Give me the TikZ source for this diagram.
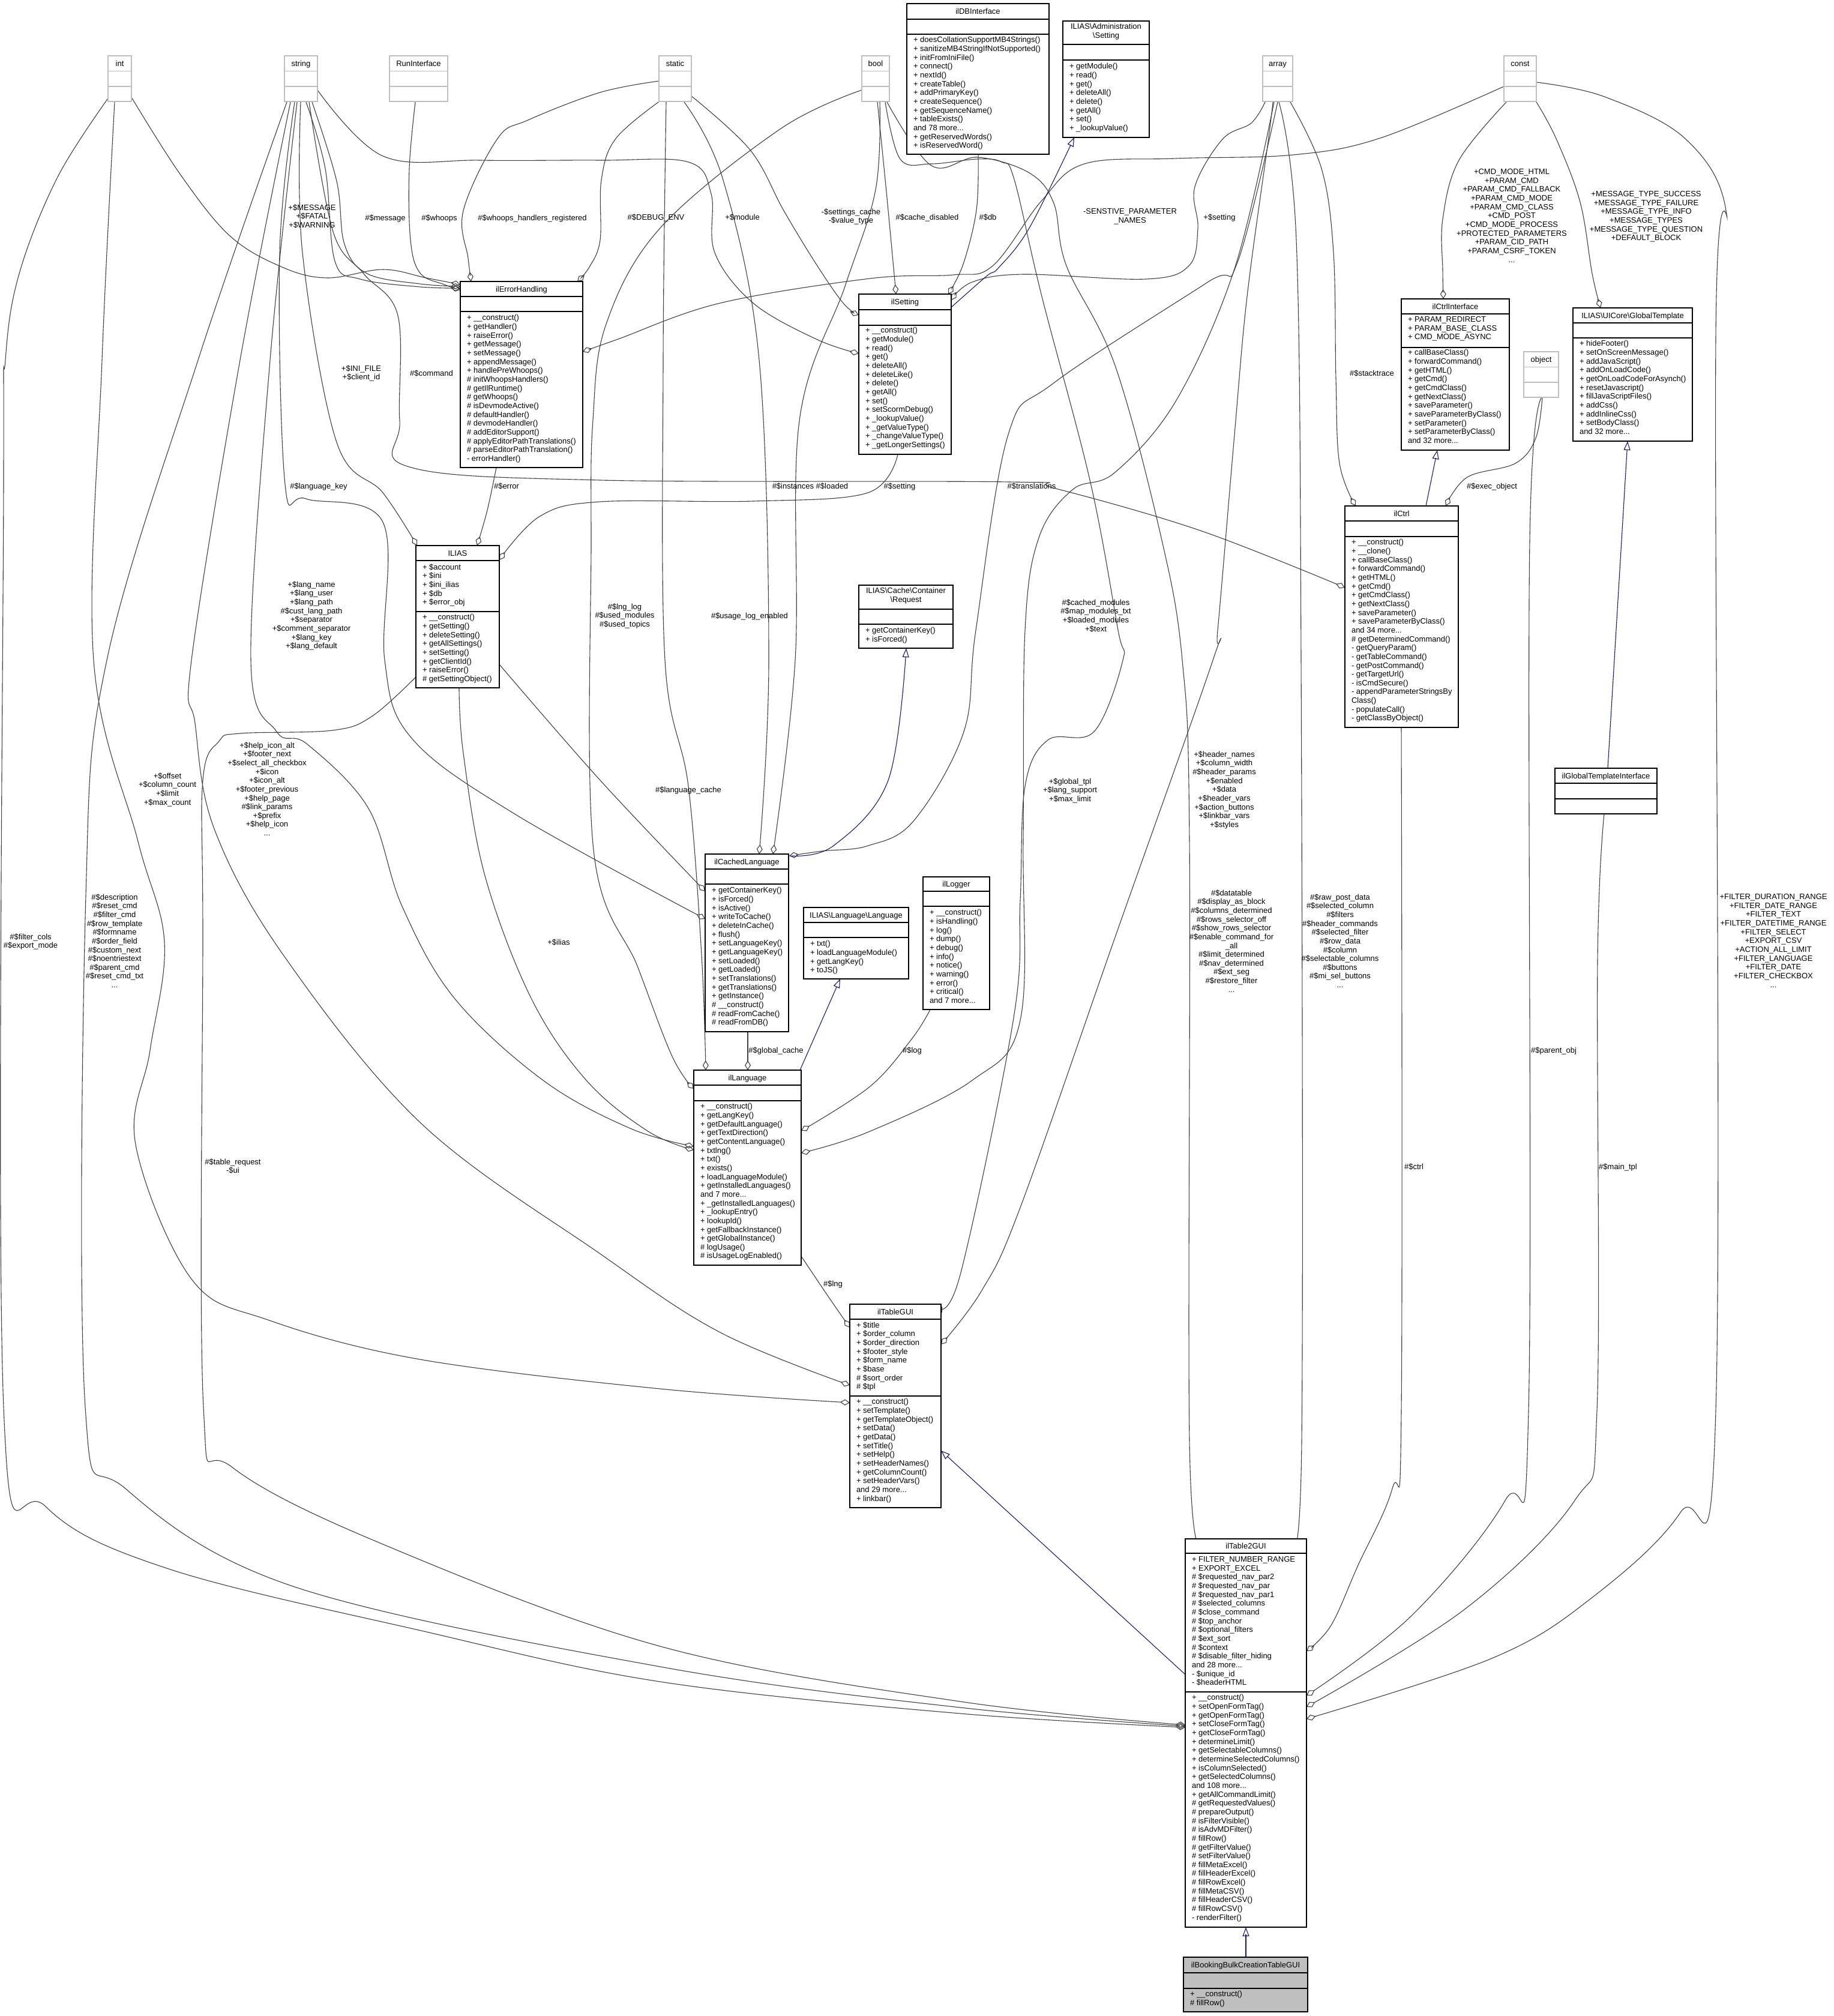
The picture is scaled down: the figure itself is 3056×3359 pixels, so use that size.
\documentclass[tikz,border=0pt]{standalone}
\usepackage{fontspec}
\setmainfont{Liberation Sans}
\usetikzlibrary{arrows.meta,calc}
\definecolor{aggc}{HTML}{404040}
\definecolor{inhc}{HTML}{191970}
\definecolor{typc}{HTML}{BFBFBF}
\definecolor{bookc}{HTML}{BFBFBF}
\newcommand{\dfont}{\fontsize{13}{14.65}\selectfont}
\pgfdeclarelayer{bg}
\pgfsetlayers{bg,main}
\tikzset{
  txt/.style={font=\dfont, inner sep=0pt, outer sep=0pt, execute at begin node={\rule{0pt}{11pt}}},
  lbl/.style={txt, align=center, anchor=north},
  mem/.style={txt, align=left, anchor=north west},
  clsn/.style={draw=black, fill=white, line width=1.4pt, inner sep=0pt, outer sep=0pt},
  clsl/.style={draw=black, line width=1.4pt},
  typn/.style={draw=typc, fill=white, line width=1.3pt, inner sep=0pt, outer sep=0pt},
  typl/.style={draw=typc, line width=1.3pt},
  agg/.style={draw=aggc, line width=1.1pt, -{Diamond[open, length=16pt, width=10pt, line width=1.1pt]}},
  inh/.style={draw=inhc, line width=1.1pt, -{Triangle[open, length=15pt, width=11pt, line width=1.1pt]}},
}
% class box: [style] name x0 y0 x1 y1 sep1 sep2
\newcommand{\clsbox}[8][]{%
  \node[clsn, #1, minimum width={#5-#3}, minimum height={#6-#4}] (#2) at ({(#3+#5)/2},{(#4+#6)/2}) {};
  \draw[clsl] (#3,#7) -- (#5,#7) (#3,#8) -- (#5,#8);}
% type box: name x0 x1 y0
\newcommand{\typbox}[4]{%
  \node[typn, minimum width={#3-#2}, minimum height=76] (#1) at ({(#2+#3)/2},{#4+38}) {};
  \draw[typl] (#2,#4+25.5) -- (#3,#4+25.5) (#2,#4+51) -- (#3,#4+51);}
% connector: style, start, waypoints, end
\newcommand{\mylink}[4]{%
  \path #2 coordinate (cA) #4 coordinate (cB);
  \draw[#1] plot[smooth, tension=0.6] coordinates {(cA) #3 (cB)};}

\begin{document}
\begin{tikzpicture}[x=1pt,y=-1pt]
\useasboundingbox (0,0) rectangle (3056,3359);
\begin{pgfonlayer}{bg}
\fill[white] (0,0) rectangle (3056,3359);
\end{pgfonlayer}

% ---------------- type boxes ----------------
\typbox{int}{180}{219}{93}
\typbox{str}{474}{529}{93}
\typbox{run}{649}{746}{93}
\typbox{stat}{1098}{1152}{93}
\typbox{bool}{1436}{1482}{93}
\typbox{arr}{2104}{2154}{93}
\typbox{cst}{2506}{2560}{93}
\typbox{obj}{2539}{2597}{586}
\node[lbl] at (199.5,99.5) {int};
\node[lbl] at (501.5,99.5) {string};
\node[lbl] at (697.5,99.5) {RunInterface};
\node[lbl] at (1125,99.5) {static};
\node[lbl] at (1459,99.5) {bool};
\node[lbl] at (2129,99.5) {array};
\node[lbl] at (2533,99.5) {const};
\node[lbl] at (2568,592) {object};

% ---------------- class boxes ----------------
\clsbox{dbi}{1511}{6}{1748}{257}{32}{57}
\node[lbl] at (1629.5,12.5) {ilDBInterface};
\node[mem] at (1522,61.5) {+ doesCollationSupportMB4Strings()\\+ sanitizeMB4StringIfNotSupported()\\+ initFromIniFile()\\+ connect()\\+ nextId()\\+ createTable()\\+ addPrimaryKey()\\+ createSequence()\\+ getSequenceName()\\+ tableExists()\\and 78 more...\\+ getReservedWords()\\+ isReservedWord()};

\clsbox{adm}{1771}{35}{1915}{229}{74}{100}
\node[lbl] at (1843,39) {ILIAS\textbackslash Administration\\\textbackslash Setting};
\node[mem] at (1782,105.5) {+ getModule()\\+ read()\\+ get()\\+ deleteAll()\\+ delete()\\+ getAll()\\+ set()\\+ \_lookupValue()};

\clsbox{errh}{767}{469}{971}{779}{494}{519}
\node[lbl] at (869,475) {ilErrorHandling};
\node[mem] at (778,524.5) {+ \_\_construct()\\+ getHandler()\\+ raiseError()\\+ getMessage()\\+ setMessage()\\+ appendMessage()\\+ handlePreWhoops()\\\# initWhoopsHandlers()\\\# getIlRuntime()\\\# getWhoops()\\\# isDevmodeActive()\\\# defaultHandler()\\\# devmodeHandler()\\\# addEditorSupport()\\\# applyEditorPathTranslations()\\\# parseEditorPathTranslation()\\- errorHandler()};

\clsbox{ilset}{1431}{490}{1585}{757}{516}{542}
\node[lbl] at (1508,496.5) {ilSetting};
\node[mem] at (1442,545.5) {+ \_\_construct()\\+ getModule()\\+ read()\\+ get()\\+ deleteAll()\\+ deleteLike()\\+ delete()\\+ getAll()\\+ set()\\+ setScormDebug()\\+ \_lookupValue()\\+ \_getValueType()\\+ \_changeValueType()\\+ \_getLongerSettings()};

\clsbox{ctrlif}{2335}{498}{2515}{750}{523}{579}
\node[lbl] at (2425,504) {ilCtrlInterface};
\node[mem] at (2346,527.5) {+ PARAM\_REDIRECT\\+ PARAM\_BASE\_CLASS\\+ CMD\_MODE\_ASYNC};
\node[mem] at (2346,582.5) {+ callBaseClass()\\+ forwardCommand()\\+ getHTML()\\+ getCmd()\\+ getCmdClass()\\+ getNextClass()\\+ saveParameter()\\+ saveParameterByClass()\\+ setParameter()\\+ setParameterByClass()\\and 32 more...};

\clsbox{gtpl}{2621}{513}{2820}{735}{538}{563}
\node[lbl] at (2720.5,519) {ILIAS\textbackslash UICore\textbackslash GlobalTemplate};
\node[mem] at (2632,567.5) {+ hideFooter()\\+ setOnScreenMessage()\\+ addJavaScript()\\+ addOnLoadCode()\\+ getOnLoadCodeForAsynch()\\+ resetJavascript()\\+ fillJavaScriptFiles()\\+ addCss()\\+ addInlineCss()\\+ setBodyClass()\\and 32 more...};

\clsbox{ilctrl}{2241}{843}{2430}{1212}{868}{894}
\node[lbl] at (2335.5,849) {ilCtrl};
\node[mem] at (2252,898.5) {+ \_\_construct()\\+ \_\_clone()\\+ callBaseClass()\\+ forwardCommand()\\+ getHTML()\\+ getCmd()\\+ getCmdClass()\\+ getNextClass()\\+ saveParameter()\\+ saveParameterByClass()\\and 34 more...\\\# getDeterminedCommand()\\- getQueryParam()\\- getTableCommand()\\- getPostCommand()\\- getTargetUrl()\\- isCmdSecure()\\- appendParameterStringsBy\\Class()\\- populateCall()\\- getClassByObject()};

\clsbox{ilias}{693}{909}{832}{1146}{934}{1019}
\node[lbl] at (762.5,915) {ILIAS};
\node[mem] at (704,939.5) {+ \$account\\+ \$ini\\+ \$ini\_ilias\\+ \$db\\+ \$error\_obj};
\node[mem] at (704,1023.5) {+ \_\_construct()\\+ getSetting()\\+ deleteSetting()\\+ getAllSettings()\\+ setSetting()\\+ getClientId()\\+ raiseError()\\\# getSettingObject()};

\clsbox{req}{1431}{975}{1588}{1080}{1015}{1040}
\node[lbl] at (1509.5,979.5) {ILIAS\textbackslash Cache\textbackslash Container\\\textbackslash Request};
\node[mem] at (1442,1045.5) {+ getContainerKey()\\+ isForced()};

\clsbox{cachel}{1175}{1423}{1314}{1719}{1448}{1473}
\node[lbl] at (1244.5,1429) {ilCachedLanguage};
\node[mem] at (1186,1478.5) {+ getContainerKey()\\+ isForced()\\+ isActive()\\+ writeToCache()\\+ deleteInCache()\\+ flush()\\+ setLanguageKey()\\+ getLanguageKey()\\+ setLoaded()\\+ getLoaded()\\+ setTranslations()\\+ getTranslations()\\+ getInstance()\\\# \_\_construct()\\\# readFromCache()\\\# readFromDB()};

\clsbox{langif}{1339}{1512}{1514}{1631}{1537}{1562}
\node[lbl] at (1426.5,1518) {ILIAS\textbackslash Language\textbackslash Language};
\node[mem] at (1350,1567.5) {+ txt()\\+ loadLanguageModule()\\+ getLangKey()\\+ toJS()};

\clsbox{logger}{1538}{1461}{1649}{1682}{1485}{1510}
\node[lbl] at (1593.5,1466.5) {ilLogger};
\node[mem] at (1549,1515.5) {+ \_\_construct()\\+ isHandling()\\+ log()\\+ dump()\\+ debug()\\+ info()\\+ notice()\\+ warning()\\+ error()\\+ critical()\\and 7 more...};

\clsbox{lang}{1156}{1783}{1335}{2108}{1808}{1834}
\node[lbl] at (1245.5,1789) {ilLanguage};
\node[mem] at (1167,1838.5) {+ \_\_construct()\\+ getLangKey()\\+ getDefaultLanguage()\\+ getTextDirection()\\+ getContentLanguage()\\+ txtlng()\\+ txt()\\+ exists()\\+ loadLanguageModule()\\+ getInstalledLanguages()\\and 7 more...\\+ \_getInstalledLanguages()\\+ \_lookupEntry()\\+ lookupId()\\+ getFallbackInstance()\\+ getGlobalInstance()\\\# logUsage()\\\# isUsageLogEnabled()};

\clsbox{gtif}{2591}{1280}{2761}{1356}{1305}{1331}
\node[lbl] at (2676,1286) {ilGlobalTemplateInterface};

\clsbox{tgui}{1416}{2173}{1568}{2512}{2198}{2326}
\node[lbl] at (1492,2179) {ilTableGUI};
\node[mem] at (1427,2202.5) {+ \$title\\+ \$order\_column\\+ \$order\_direction\\+ \$footer\_style\\+ \$form\_name\\+ \$base\\\# \$sort\_order\\\# \$tpl};
\node[mem] at (1427,2330.5) {+ \_\_construct()\\+ setTemplate()\\+ getTemplateObject()\\+ setData()\\+ getData()\\+ setTitle()\\+ setHelp()\\+ setHeaderNames()\\+ getColumnCount()\\+ setHeaderVars()\\and 29 more...\\+ linkbar()};

\clsbox{t2gui}{1975}{2564}{2177}{3211}{2588}{2819}
\node[lbl] at (2076,2569.5) {ilTable2GUI};
\node[mem] at (1986,2593.5) {+ FILTER\_NUMBER\_RANGE\\+ EXPORT\_EXCEL\\\# \$requested\_nav\_par2\\\# \$requested\_nav\_par\\\# \$requested\_nav\_par1\\\# \$selected\_columns\\\# \$close\_command\\\# \$top\_anchor\\\# \$optional\_filters\\\# \$ext\_sort\\\# \$context\\\# \$disable\_filter\_hiding\\and 28 more...\\- \$unique\_id\\- \$headerHTML};
\node[mem] at (1986,2823.5) {+ \_\_construct()\\+ setOpenFormTag()\\+ getOpenFormTag()\\+ setCloseFormTag()\\+ getCloseFormTag()\\+ determineLimit()\\+ getSelectableColumns()\\+ determineSelectedColumns()\\+ isColumnSelected()\\+ getSelectedColumns()\\and 108 more...\\+ getAllCommandLimit()\\\# getRequestedValues()\\\# prepareOutput()\\\# isFilterVisible()\\\# isAdvMDFilter()\\\# fillRow()\\\# getFilterValue()\\\# setFilterValue()\\\# fillMetaExcel()\\\# fillHeaderExcel()\\\# fillRowExcel()\\\# fillMetaCSV()\\\# fillHeaderCSV()\\\# fillRowCSV()\\- renderFilter()};

\clsbox[fill=bookc]{booking}{1972}{3261}{2179}{3352}{3287}{3313}
\node[lbl] at (2075.5,3267.5) {ilBookingBulkCreationTableGUI};
\node[mem] at (1983,3317.5) {+ \_\_construct()\\\# fillRow()};

% ---------------- connectors ----------------
\begin{pgfonlayer}{bg}
% into ilErrorHandling
\mylink{agg}{($(int.north west)+(39,69)$)}{(300,290) (383,393) (470,445) (545,463) (638,449) (710,463)}{($(errh.north west)+(0,5)$)}
\mylink{agg}{($(str.north west)+(46,77)$)}{(561,302) (574,407) (612,456) (700,473)}{($(errh.north west)+(0,8)$)}
\mylink{agg}{($(str.north west)+(36,77)$)}{(542,281) (558,435) (600,465) (700,478)}{($(errh.north west)+(0,11)$)}
\mylink{agg}{($(run.north west)+(43,77)$)}{(682,281) (684,400) (700,455) (740,474)}{($(errh.north west)+(0,14)$)}
\mylink{agg}{($(stat.north west)+(0,42)$)}{(1000,154) (880,200) (829,231) (772,351) (780,430)}{($(errh.north west)+(18,0)$)}
\mylink{agg}{($(stat.north west)+(2,75)$)}{(1026,231) (1002,300) (1000,400) (982,445)}{($(errh.north west)+(195,0)$)}
\mylink{agg}{($(cst.north west)+(0,51)$)}{(2300,230) (2155,258) (1960,264) (1807,273) (1736,334) (1654,443) (1588,458) (1450,464) (1200,505) (1030,565)}{($(errh.north west)+(204,117)$)}
% into ilSetting
\mylink{agg}{($(str.north west)+(55,57)$)}{(638,260) (800,267) (1000,267) (1147,270) (1185,323) (1191,421) (1255,505) (1360,565)}{($(ilset.north west)+(0,99)$)}
\mylink{agg}{($(stat.north west)+(54,67)$)}{(1250,250) (1306,351) (1360,440) (1405,505)}{($(ilset.north west)+(0,35)$)}
\mylink{agg}{($(bool.north west)+(26,77)$)}{(1478,330)}{($(ilset.north west)+(62,0)$)}
\mylink{agg}{($(dbi.north west)+(119,251)$)}{(1627,350) (1605,440)}{($(ilset.north west)+(149,0)$)}
\mylink{agg}{($(arr.north west)+(4,77)$)}{(2085,205) (2037,232) (1991,311) (1996,380) (1981,443) (1909,465) (1705,457) (1620,470)}{($(ilset.north west)+(154,10)$)}
\mylink{inh}{($(ilset.north west)+(154,22)$)}{(1644,460) (1664,446) (1715,380)}{($(adm.north west)+(19,194)$)}
% ilCtrlInterface, GlobalTemplate
\mylink{agg}{($(cst.north west)+(4,77)$)}{(2431,267) (2404,365) (2404,450)}{($(ctrlif.north west)+(70,0)$)}
\mylink{agg}{($(cst.north west)+(54,77)$)}{(2593,231) (2633,337) (2653,456)}{($(gtpl.north west)+(46,0)$)}
% ilCtrl
\mylink{inh}{($(ilctrl.north west)+(135,0)$)}{}{($(ctrlif.north west)+(60,252)$)}
\mylink{agg}{($(arr.north west)+(46,77)$)}{(2202,281) (2222,421) (2226,631) (2232,772)}{($(ilctrl.north west)+(18,0)$)}
\mylink{agg}{($(obj.north west)+(31,76)$)}{(2559,730) (2525,772) (2445,795)}{($(ilctrl.north west)+(168,0)$)}
\mylink{agg}{($(str.north west)+(41,77)$)}{(555,386) (606,456) (663,526) (666,701) (682,778) (1000,800) (1682,803) (1759,814) (2000,884)}{($(ilctrl.north west)+(0,136)$)}
% ILIAS
\mylink{agg}{($(str.north west)+(27,77)$)}{(504,421) (561,737) (638,821)}{($(ilias.north west)+(2,0)$)}
\mylink{agg}{($(errh.north west)+(60,310)$)}{(812,850)}{($(ilias.north west)+(102,0)$)}
\mylink{agg}{($(ilset.north west)+(65,267)$)}{(1446,821) (1255,835) (1000,836) (900,860)}{($(ilias.north west)+(139,24)$)}
% ilCachedLanguage
\mylink{agg}{($(stat.north west)+(42,77)$)}{(1205,300) (1265,600) (1281,1100)}{($(cachel.north west)+(90,0)$)}
\mylink{agg}{($(bool.north west)+(30,77)$)}{(1459,316) (1408,477) (1332,701) (1325,1100)}{($(cachel.north west)+(113,0)$)}
\mylink{agg}{($(ilias.north west)+(139,198)$)}{(1000,1300)}{($(cachel.north west)+(0,62)$)}
\mylink{agg}{($(str.north west)+(17,77)$)}{(466,421) (475,807) (510,831) (638,870) (641,1100) (686,1230) (859,1357)}{($(cachel.north west)+(0,108)$)}
\mylink{agg}{($(arr.north west)+(25,77)$)}{(2062,437) (2011,471) (1756,638) (1680,724) (1626,1050) (1606,1219) (1523,1367) (1447,1409) (1370,1418)}{($(cachel.north west)+(140,3)$)}
\mylink{inh}{($(cachel.north west)+(142,3)$)}{(1389,1409) (1480,1300)}{($(req.north west)+(79,105)$)}
% ilLanguage
\mylink{agg}{($(cachel.north west)+(71,296)$)}{}{($(lang.north west)+(90,0)$)}
\mylink{inh}{($(lang.north west)+(177,0)$)}{}{($(langif.north west)+(61,119)$)}
\mylink{agg}{($(logger.north west)+(12,221)$)}{(1520,1730) (1450,1810)}{($(lang.north west)+(179,101)$)}
\mylink{agg}{($(arr.north west)+(19,77)$)}{(2057,448) (1960,667) (1858,787) (1787,816) (1731,896) (1708,1050) (1705,1400) (1700,1700) (1620,1800) (1447,1886)}{($(lang.north west)+(179,138)$)}
\mylink{agg}{($(stat.north west)+(12,77)$)}{(1105,600) (1108,1100) (1147,1310) (1169,1591)}{($(lang.north west)+(20,0)$)}
\mylink{agg}{($(bool.north west)+(0,57)$)}{(1300,215) (1100,380) (1010,540) (988,700) (985,900) (989,1416) (1063,1612) (1120,1760)}{($(lang.north west)+(0,31)$)}
\mylink{agg}{($(str.north west)+(21,77)$)}{(450,600) (418,1100) (461,1219) (512,1240) (614,1347) (670,1510) (757,1663) (905,1800) (1050,1880)}{($(lang.north west)+(0,127)$)}
\mylink{agg}{($(ilias.north west)+(72,237)$)}{(772,1255) (808,1459) (885,1663) (977,1800) (1080,1885)}{($(lang.north west)+(0,133)$)}
% global template interface
\mylink{inh}{($(gtif.north west)+(88,0)$)}{}{($(gtpl.north west)+(91,222)$)}
% ilTableGUI
\mylink{agg}{($(int.north west)+(11,77)$)}{(170,600) (156,1100) (230,1402) (274,1570) (250,1750) (226,1907) (319,2131) (449,2200) (700,2265) (1100,2314)}{($(tgui.north west)+(0,164)$)}
\mylink{agg}{($(str.north west)+(10,77)$)}{(400,600) (319,1100) (325,1205) (357,1381) (472,1591) (702,1872) (1000,2089) (1200,2220)}{($(tgui.north west)+(0,135)$)}
\mylink{agg}{($(lang.north west)+(179,310)$)}{(1380,2160)}{($(tgui.north west)+(0,39)$)}
\mylink{agg}{($(bool.north west)+(39,77)$)}{(1500,265) (1552,273) (1629,265) (1669,270) (1690,299) (1736,494) (1817,804) (1863,1050) (1871,1100) (1823,1219) (1746,1233) (1708,1310) (1700,1500) (1689,1696) (1600,2124)}{($(tgui.north west)+(146,0)$)}
\mylink{agg}{($(arr.north west)+(17,77)$)}{(2113,236) (2078,494) (2057,724) (2029,1050) (2021,1100) (1860,1556) (1700,2012) (1636,2150)}{($(tgui.north west)+(152,67)$)}
% ilTable2GUI
\mylink{agg}{($(gtif.north west)+(82,76)$)}{(2662,1600) (2661,2350) (2624,2500) (2441,2681)}{($(t2gui.north west)+(202,280)$)}
\mylink{agg}{($(ilctrl.north west)+(94,369)$)}{(2335,2350) (2320,2480) (2262,2610) (2218,2708)}{($(t2gui.north west)+(202,187)$)}
\mylink{agg}{($(obj.north west)+(36,76)$)}{(2549,900) (2547,2350) (2508,2500) (2352,2692)}{($(t2gui.north west)+(202,261)$)}
\mylink{agg}{($(cst.north west)+(54,44)$)}{(2673,161) (2808,231) (2876,351) (2859,561) (2859,2350) (2800,2520) (2650,2664) (2486,2763)}{($(t2gui.north west)+(202,300)$)}
\mylink{agg}{($(bool.north west)+(42,77)$)}{(1552,276) (1629,262) (1715,288) (1756,339) (1777,443) (1858,609) (1935,896) (1970,1100) (1982,1400) (1982,2400)}{($(t2gui.north west)+(25,0)$)}
\mylink{agg}{($(arr.north west)+(27,77)$)}{(2160,400) (2168,1100) (2169,2400)}{($(t2gui.north west)+(176,0)$)}
\mylink{agg}{($(int.north west)+(2,68)$)}{(96,295) (32,456) (9,600) (6,800) (6,2344) (76,2510) (281,2614) (702,2717) (1100,2802) (1600,2855)}{($(t2gui.north west)+(0,314)$)}
\mylink{agg}{($(str.north west)+(4,77)$)}{(330,600) (178,1100) (143,1493) (142,2344) (210,2481) (491,2644) (1100,2777) (1600,2845)}{($(t2gui.north west)+(0,312)$)}
\mylink{agg}{($(ilias.north west)+(0,219)$)}{(619,1194) (553,1217) (400,1222) (365,1235) (338,1300) (338,1556) (339,2344) (386,2444) (631,2570) (1100,2743) (1600,2835)}{($(t2gui.north west)+(0,310)$)}
\mylink{inh}{($(t2gui.north west)+(0,226)$)}{}{($(tgui.north west)+(152,244)$)}
\mylink{inh}{($(booking.north west)+(104,0)$)}{}{($(t2gui.north west)+(101,647)$)}
\end{pgfonlayer}

% ---------------- edge labels ----------------
\node[lbl] at (520,340.5) {+\$MESSAGE\\+\$FATAL\\+\$WARNING};
\node[lbl] at (642,356.5) {\#\$message};
\node[lbl] at (732,356.5) {\#\$whoops};
\node[lbl] at (887,356.5) {\#\$whoops\_handlers\_registered};
\node[lbl] at (1093,355.5) {\#\$DEBUG\_ENV};
\node[lbl] at (1237,355.5) {+\$module};
\node[lbl] at (1418,347.5) {-\$settings\_cache\\-\$value\_type};
\node[lbl] at (1545,355.5) {\#\$cache\_disabled};
\node[lbl] at (1646,355.5) {\#\$db};
\node[lbl] at (1883,347.5) {-SENSTIVE\_PARAMETER\\\_NAMES};
\node[lbl] at (2032,355.5) {+\$setting};
\node[lbl] at (2519,281.5) {+CMD\_MODE\_HTML\\+PARAM\_CMD\\+PARAM\_CMD\_FALLBACK\\+PARAM\_CMD\_MODE\\+PARAM\_CMD\_CLASS\\+CMD\_POST\\+CMD\_MODE\_PROCESS\\+PROTECTED\_PARAMETERS\\+PARAM\_CID\_PATH\\+PARAM\_CSRF\_TOKEN\\...};
\node[lbl] at (2743,318.5) {+MESSAGE\_TYPE\_SUCCESS\\+MESSAGE\_TYPE\_FAILURE\\+MESSAGE\_TYPE\_INFO\\+MESSAGE\_TYPES\\+MESSAGE\_TYPE\_QUESTION\\+DEFAULT\_BLOCK};
\node[lbl] at (602,608.5) {+\$INI\_FILE\\+\$client\_id};
\node[lbl] at (719,615.5) {\#\$command};
\node[lbl] at (2286,615.5) {\#\$stacktrace};
\node[lbl] at (531,803.5) {\#\$language\_key};
\node[lbl] at (844,803.5) {\#\$error};
\node[lbl] at (1350,803.5) {\#\$instances \#\$loaded};
\node[lbl] at (1499,803.5) {\#\$setting};
\node[lbl] at (1719,803.5) {\#\$translations};
\node[lbl] at (2486,803.5) {\#\$exec\_object};
\node[lbl] at (519,968.5) {+\$lang\_name\\+\$lang\_user\\+\$lang\_path\\\#\$cust\_lang\_path\\+\$separator\\+\$comment\_separator\\+\$lang\_key\\+\$lang\_default};
\node[lbl] at (1041,1005.5) {\#\$lng\_log\\\#\$used\_modules\\\#\$used\_topics};
\node[lbl] at (1249,1019.5) {\#\$usage\_log\_enabled};
\node[lbl] at (1826,998.5) {\#\$cached\_modules\\\#\$map\_modules\_txt\\+\$loaded\_modules\\+\$text};
\node[lbl] at (445,1236.5) {+\$help\_icon\_alt\\+\$footer\_next\\+\$select\_all\_checkbox\\+\$icon\\+\$icon\_alt\\+\$footer\_previous\\+\$help\_page\\\#\$link\_params\\+\$prefix\\+\$help\_icon\\...};
\node[lbl] at (279,1287.5) {+\$offset\\+\$column\_count\\+\$limit\\+\$max\_count};
\node[lbl] at (2040,1251.5) {+\$header\_names\\+\$column\_width\\\#\$header\_params\\+\$enabled\\+\$data\\+\$header\_vars\\+\$action\_buttons\\+\$linkbar\_vars\\+\$styles};
\node[lbl] at (1783,1296.5) {+\$global\_tpl\\+\$lang\_support\\+\$max\_limit};
\node[lbl] at (1147,1309.5) {\#\$language\_cache};
\node[lbl] at (2052,1482.5) {\#\$datatable\\\#\$display\_as\_block\\\#\$columns\_determined\\\#\$rows\_selector\_off\\\#\$show\_rows\_selector\\\#\$enable\_command\_for\\\_all\\\#\$limit\_determined\\\#\$nav\_determined\\\#\$ext\_seg\\\#\$restore\_filter\\...};
\node[lbl] at (2233,1489.5) {\#\$raw\_post\_data\\\#\$selected\_column\\\#\$filters\\\#\$header\_commands\\\#\$selected\_filter\\\#\$row\_data\\\#\$column\\\#\$selectable\_columns\\\#\$buttons\\\#\$mi\_sel\_buttons\\...};
\node[lbl] at (2955,1489.5) {+FILTER\_DURATION\_RANGE\\+FILTER\_DATE\_RANGE\\+FILTER\_TEXT\\+FILTER\_DATETIME\_RANGE\\+FILTER\_SELECT\\+EXPORT\_CSV\\+ACTION\_ALL\_LIMIT\\+FILTER\_LANGUAGE\\+FILTER\_DATE\\+FILTER\_CHECKBOX\\...};
\node[lbl] at (191,1489.5) {\#\$description\\\#\$reset\_cmd\\\#\$filter\_cmd\\\#\$row\_template\\\#\$formname\\\#\$order\_field\\\#\$custom\_next\\\#\$noentriestext\\\#\$parent\_cmd\\\#\$reset\_cmd\_txt\\...};
\node[lbl] at (51,1555.5) {\#\$filter\_cols\\\#\$export\_mode};
\node[lbl] at (931,1563.5) {+\$ilias};
\node[lbl] at (1293,1743.5) {\#\$global\_cache};
\node[lbl] at (1520,1743.5) {\#\$log};
\node[lbl] at (2589,1743.5) {\#\$parent\_obj};
\node[lbl] at (388,1930.5) {\#\$table\_request\\-\$ui};
\node[lbl] at (2356,1937.5) {\#\$ctrl};
\node[lbl] at (2696,1937.5) {\#\$main\_tpl};
\node[lbl] at (1388,2132.5) {\#\$lng};
\end{tikzpicture}
\end{document}
